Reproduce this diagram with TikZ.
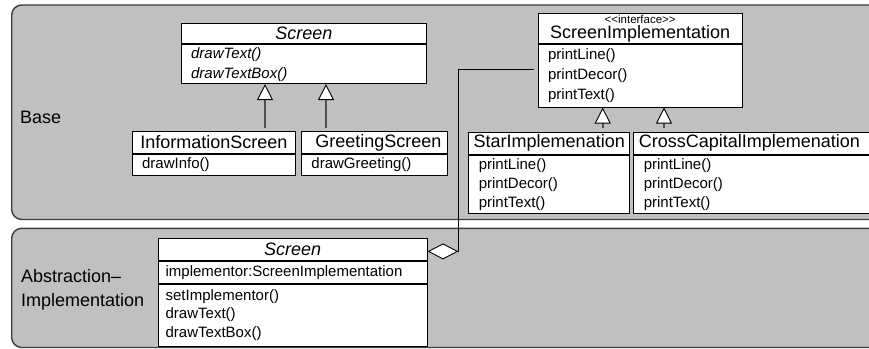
\documentclass[tikz,border=0pt]{standalone}
\usepackage{fontspec}
\setmainfont{Liberation Sans}
\usetikzlibrary{arrows.meta,calc}
\definecolor{panelfill}{HTML}{C0C0C0}
\definecolor{panelline}{HTML}{3C3C3C}
\definecolor{inhline}{HTML}{505050}
\begin{document}
\begin{tikzpicture}[x=1pt,y=-1pt,
  panel/.style={draw=panelline, fill=panelfill, line width=1.4pt, rounded corners=10pt},
  ttl/.style={draw=black, fill=white, line width=0.9pt, inner sep=0pt, anchor=north west,
    font=\fontsize{18}{20}\selectfont},
  mem/.style={draw=black, fill=white, line width=0.9pt, inner ysep=0pt, inner xsep=10pt,
    anchor=north west, align=left, font=\fontsize{15}{20}\selectfont},
  lbl/.style={inner sep=0pt, anchor=west, font=\fontsize{18}{23.4}\selectfont},
  inh/.style={draw=inhline, line width=1.6pt,
    -{Triangle[length=16pt,width=16pt,fill=white,color=black,line width=0.9pt]}},
  assoc/.style={draw=black, line width=1.1pt,
    -{Diamond[length=30.7pt,width=16pt,fill=white,color=black,line width=0.9pt]}}
]
\useasboundingbox (0,0) rectangle (869,348);
\clip (0,0) rectangle (869,348);

% package panels
\path[panel] (11.7,5) rectangle (890,219.5);
\path[panel] (11.7,228.3) rectangle (890,347.5);

% panel captions
\node[lbl] (base-l) at (20,117) {Base};
\node[lbl, align=left] (ai-l) at (21,290) {Abstraction–\\Implementation};

% abstract Screen
\node[ttl, minimum width=245.3pt, minimum height=20pt,
  font=\fontsize{18}{20}\selectfont\itshape] (scr-t) at (180.7,23.3) {Screen};
\node[mem, text width=225.3pt, minimum height=39pt,
  font=\fontsize{15}{20}\selectfont\itshape] (scr-m) at (scr-t.south west)
  {drawText()\\drawTextBox()};

% refined screens
\node[ttl, minimum width=163.3pt, minimum height=21.5pt] (info-t) at (131.7,131.3) {InformationScreen};
\node[mem, text width=143.3pt, minimum height=21.2pt] (info-m) at (info-t.south west) {drawInfo()};
\node[ttl, minimum width=145.7pt, minimum height=21.5pt] (greet-t) at (301,131.3) {\hspace{8pt}GreetingScreen};
\node[mem, text width=125.7pt, minimum height=21.2pt] (greet-m) at (greet-t.south west) {drawGreeting()};

% implementor interface
\node[ttl, minimum width=204pt, minimum height=30pt, align=center] (simpl-t) at (537.7,13.3)
  {{\fontsize{11.5}{12}\selectfont <\kern0pt<interface>\kern0pt>}\\[-4.8pt]ScreenImplementation};
\node[mem, text width=184pt, minimum height=62.4pt] (simpl-m) at (simpl-t.south west)
  {printLine()\\printDecor()\\printText()};

% concrete implementors
\node[ttl, minimum width=161pt, minimum height=22.3pt] (star-t) at (468.3,131.7) {StarImplemenation};
\node[mem, text width=141pt, minimum height=58.3pt, font=\fontsize{15}{19}\selectfont]
  (star-m) at (star-t.south west) {printLine()\\printDecor()\\printText()};
\node[ttl, minimum width=250pt, minimum height=22.3pt, inner xsep=5pt, text width=240pt, align=left]
  (cross-t) at (633.3,131.7) {CrossCapitalImplemenation};
\node[mem, text width=230pt, minimum height=58.3pt, font=\fontsize{15}{19}\selectfont]
  (cross-m) at (cross-t.south west) {printLine()\\printDecor()\\printText()};

% bridge abstraction
\node[ttl, minimum width=269pt, minimum height=21.7pt,
  font=\fontsize{18}{20}\selectfont\itshape] (bscr-t) at (157.7,238.3) {Screen};
\node[mem, text width=254pt, minimum height=21.7pt, inner xsep=7.5pt]
  (bscr-a) at (bscr-t.south west) {implementor:ScreenImplementation};
\node[mem, text width=254pt, minimum height=62.3pt, inner xsep=7.5pt, font=\fontsize{15}{18.3}\selectfont]
  (bscr-m) at (bscr-a.south west) {setImplementor()\\drawText()\\drawTextBox()};

% generalisations
\coordinate (g1) at ([xshift=84.3pt]scr-m.south west);
\coordinate (g2) at ([xshift=145.3pt]scr-m.south west);
\coordinate (g3) at ([xshift=65pt]simpl-m.south west);
\coordinate (g4) at ([xshift=126.3pt]simpl-m.south west);
\draw[inh, shorten <=3pt] (info-t.north -| g1) -- (g1);
\draw[inh, shorten <=3pt] (greet-t.north -| g2) -- (g2);
\draw[inh, shorten <=4pt] (star-t.north -| g3) -- (g3);
\draw[inh, shorten <=4pt] (cross-t.north -| g4) -- (g4);

% aggregation of the implementor
\draw[assoc, shorten <=4pt] ([yshift=6.8pt]simpl-m.west) -| ($(bscr-t.east)+(30.7,1.8)$) -- ([yshift=-1.8pt]bscr-t.east);
\end{tikzpicture}
\end{document}
